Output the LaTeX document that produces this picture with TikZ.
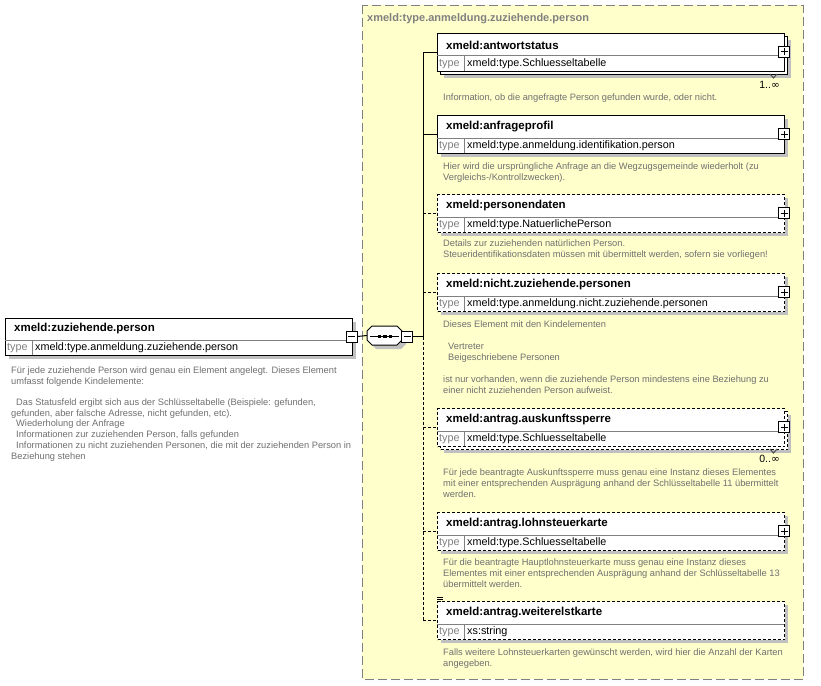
\documentclass[tikz,border=0pt]{standalone}
\usepackage{fontspec}
\setmainfont{Liberation Sans}
\newfontfamily\symfont{DejaVu Sans}
\definecolor{yel}{RGB}{255,255,204}
\definecolor{shd}{RGB}{192,192,192}
\definecolor{bord}{RGB}{128,128,128}
\definecolor{dscc}{RGB}{112,112,112}
\definecolor{sepc}{RGB}{128,128,128}
\tikzset{
 elsolid/.style={draw=black, fill=white, line width=1pt, inner sep=0, anchor=north west, minimum width=347pt, minimum height=38pt},
 eldashed/.style={elsolid, dash pattern=on 3pt off 2pt},
 ttl/.style={font=\fontsize{11.5}{13}\selectfont\bfseries, anchor=west, inner sep=0},
 typ/.style={font=\fontsize{10.8}{12}\selectfont, anchor=west, inner sep=0},
 typlbl/.style={typ, text=sepc},
 dsc/.style={font=\fontsize{9.3}{11}\selectfont, text=dscc, align=left, anchor=north west, inner sep=0},
 sepl/.style={draw=sepc, line width=1pt},
 pmbox/.style={draw=black, fill=white, line width=1pt, minimum size=11pt, inner sep=0},
 conn/.style={line width=1pt},
 conndash/.style={line width=1pt, dash pattern=on 3pt off 2pt},
 occ/.style={font=\fontsize{10.5}{12}\selectfont, anchor=east, inner sep=0},
}
\newcommand{\xelem}[6]{%
  \ifnum#6=1
    \fill[shd] (444,#2+7) rectangle (791,#2+45);
    \node[#5] (#1b) at (440,#2+3) {};
  \else
    \fill[shd] (441,#2+4) rectangle (788,#2+42);
  \fi
  \node[#5] (#1) at (437,#2) {};
  \draw[sepl] (437,#2+23) -- (784,#2+23);
  \draw[sepl] (464,#2+23) -- (464,#2+38);
  \node[ttl] (#1t) at (446,#2+12) {#3};
  \node[typlbl] (#1k) at (439,#2+31) {type};
  \node[typ] (#1y) at (467,#2+31) {#4};
  \node[pmbox] (#1p) at (784,#2+19) {};
  \draw[line width=1pt] ([xshift=-3.5pt]#1p.center) -- ([xshift=3.5pt]#1p.center) ([yshift=-3.5pt]#1p.center) -- ([yshift=3.5pt]#1p.center);
}
\newcommand{\xtick}[1]{%
  \draw[line width=1pt, draw=black!70] (770,#1+41) -- (773.5,#1+45) -- (777,#1+41);
}
\begin{document}
\begin{tikzpicture}[x=1pt,y=-1pt]
\useasboundingbox (0,0) rectangle (821,685);
\fill[white] (0,0) rectangle (821,685);
% complex type box
\draw[bord, dash pattern=on 9pt off 4pt, fill=yel, line width=1pt] (362,5.5) rectangle (803,679);
\node[font=\fontsize{11}{13}\selectfont\bfseries, text=bord, anchor=west, inner sep=0] (ctt) at (367,19) {xmeld:type.anmeldung.zuziehende.person};

% root element
\fill[shd] (9,322) rectangle (356,359);
\node[elsolid, minimum height=37pt] (root) at (5,318) {};
\draw[sepl] (5,340) -- (352,340);
\draw[sepl] (32,340) -- (32,355);
\node[ttl] (roott) at (14,329) {xmeld:zuziehende.person};
\node[typlbl] (rootk) at (7,348) {type};
\node[typ] (rooty) at (35,348) {xmeld:type.anmeldung.zuziehende.person};
\node[pmbox] (rootm) at (351.5,336.5) {};
\draw[line width=1pt] ([xshift=-3.5pt]rootm.center) -- ([xshift=3.5pt]rootm.center);
\node[dsc, font=\fontsize{9.3}{10.7}\selectfont] (rootd) at (11,366.5) {Für jede zuziehende Person wird genau ein Element angelegt. Dieses Element\\umfasst folgende Kindelemente:\\[0pt] \\\hspace*{5pt}Das Statusfeld ergibt sich aus der Schlüsseltabelle (Beispiele: gefunden,\\gefunden, aber falsche Adresse, nicht gefunden, etc).\\\hspace*{5pt}Wiederholung der Anfrage\\\hspace*{5pt}Informationen zur zuziehenden Person, falls gefunden\\\hspace*{5pt}Informationen zu nicht zuziehenden Personen, die mit der zuziehenden Person in\\Beziehung stehen};

% sequence compositor
\fill[shd] (376,330) -- (401,330) -- (406,335) -- (406,344) -- (401,349) -- (376,349) -- (371,344) -- (371,335) -- cycle;
\node[inner sep=0, minimum width=35pt, minimum height=19pt] (seq) at (384.5,335.5) {};
\draw[line width=1pt, fill=white] (372,326) -- (397,326) -- (402,331) -- (402,340) -- (397,345) -- (372,345) -- (367,340) -- (367,331) -- cycle;
\draw[line width=1pt] (370,336) -- (399,336);
\fill (377.5,334.5) rectangle (381,337.5);
\fill (383,334.5) rectangle (386.5,337.5);
\fill (388.5,334.5) rectangle (392,337.5);
\node[pmbox] (seqm) at (407,336.5) {};
\draw[line width=1pt] ([xshift=-3.5pt]seqm.center) -- ([xshift=3.5pt]seqm.center);
\coordinate (bus) at (423,336.5);
\draw[conn] (rootm.east) -- (seq.west);
\draw[conn] (seqm.east) -- (bus);

% children
\xelem{antw}{33}{xmeld:antwortstatus}{xmeld:type.Schluesseltabelle}{elsolid}{1}
\xtick{33}
\node[occ] (antwo) at (780,85) {1..{\symfont ∞}};
\node[dsc] (antwd) at (443,93.5) {Information, ob die angefragte Person gefunden wurde, oder nicht.};

\xelem{anfr}{115}{xmeld:anfrageprofil}{xmeld:type.anmeldung.identifikation.person}{elsolid}{0}
\node[dsc] (anfrd) at (443,162.5) {Hier wird die ursprüngliche Anfrage an die Wegzugsgemeinde wiederholt (zu\\Vergleichs-/Kontrollzwecken).};

\xelem{pers}{194}{xmeld:personendaten}{xmeld:type.NatuerlichePerson}{eldashed}{0}
\node[dsc] (persd) at (443,239.5) {Details zur zuziehenden natürlichen Person.\\Steueridentifikationsdaten müssen mit übermittelt werden, sofern sie vorliegen!};

\xelem{nich}{273}{xmeld:nicht.zuziehende.personen}{xmeld:type.anmeldung.nicht.zuziehende.personen}{eldashed}{0}
\node[dsc] (nichd) at (443,320.5) {Dieses Element mit den Kindelementen\\[0pt] \\\hspace*{5pt}Vertreter\\\hspace*{5pt}Beigeschriebene Personen\\[0pt] \\ist nur vorhanden, wenn die zuziehende Person mindestens eine Beziehung zu\\einer nicht zuziehenden Person aufweist.};

\xelem{ausk}{408}{xmeld:antrag.auskunftssperre}{xmeld:type.Schluesseltabelle}{eldashed}{1}
\xtick{408}
\node[occ] (ausko) at (780,459) {0..{\symfont ∞}};
\node[dsc] (auskd) at (443,468.5) {Für jede beantragte Auskunftssperre muss genau eine Instanz dieses Elementes\\mit einer entsprechenden Ausprägung anhand der Schlüsseltabelle 11 übermittelt\\werden.};

\xelem{lohn}{512}{xmeld:antrag.lohnsteuerkarte}{xmeld:type.Schluesseltabelle}{eldashed}{0}
\node[dsc] (lohnd) at (443,558.5) {Für die beantragte Hauptlohnsteuerkarte muss genau eine Instanz dieses\\Elementes mit einer entsprechenden Ausprägung anhand der Schlüsseltabelle 13\\übermittelt werden.};

% weiterelstkarte (simple content, no plus box)
\fill[shd] (441,605) rectangle (788,643);
\node[eldashed] (weit) at (437,601) {};
\draw[sepl] (437,624) -- (784,624);
\draw[sepl] (464,624) -- (464,639);
\node[ttl] (weitt) at (446,613) {xmeld:antrag.weiterelstkarte};
\node[typlbl] (weitk) at (439,632) {type};
\node[typ] (weity) at (467,632) {xs:string};
\draw[line width=0.8pt] (437,597.5) -- (443,597.5) (437,599.5) -- (443,599.5) (437,601.5) -- (441,601.5);
\node[dsc] (weitd) at (443,648.5) {Falls weitere Lohnsteuerkarten gewünscht werden, wird hier die Anzahl der Karten\\angegeben.};

% bus lines
\draw[conn] (bus) -- (bus |- antw.west);
\draw[conndash] (bus) -- (bus |- weit.west);
\draw[conn] (bus |- antw.west) -- (antw.west);
\draw[conn] (bus |- anfr.west) -- (anfr.west);
\draw[conndash] (bus |- pers.west) -- (pers.west);
\draw[conndash] (bus |- nich.west) -- (nich.west);
\draw[conndash] (bus |- ausk.west) -- (ausk.west);
\draw[conndash] (bus |- lohn.west) -- (lohn.west);
\draw[conndash] (bus |- weit.west) -- (weit.west);
\end{tikzpicture}
\end{document}
